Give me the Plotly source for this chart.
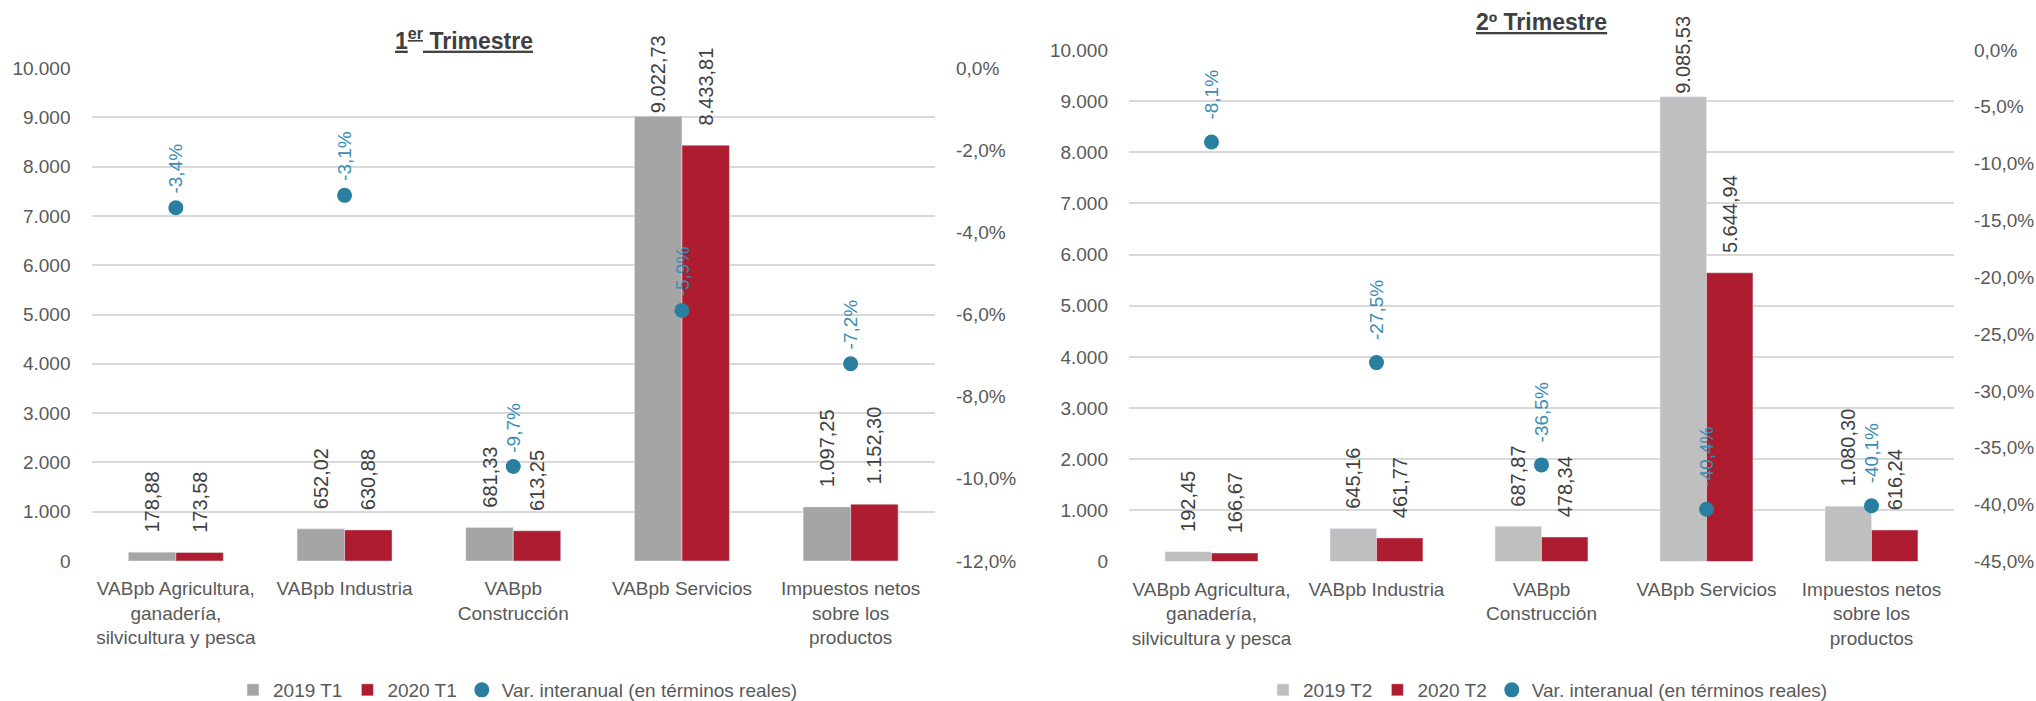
import plotly.graph_objects as go

categories = [
    "VABpb Agricultura,<br>ganadería,<br>silvicultura y pesca",
    "VABpb Industria",
    "VABpb<br>Construcción",
    "VABpb Servicios",
    "Impuestos netos<br>sobre los<br>productos",
]

t1_2019 = [178.88, 652.02, 681.33, 9022.73, 1097.25]
t1_2020 = [173.58, 630.88, 613.25, 8433.81, 1152.30]
t1_var = [-3.4, -3.1, -9.7, -5.9, -7.2]

t2_2019 = [192.45, 645.16, 687.87, 9085.53, 1080.30]
t2_2020 = [166.67, 461.77, 478.34, 5644.94, 616.24]
t2_var = [-8.1, -27.5, -36.5, -40.4, -40.1]

left_ticks = [0, 1000, 2000, 3000, 4000, 5000, 6000, 7000, 8000, 9000, 10000]
left_ticktext = ["0", "1.000", "2.000", "3.000", "4.000", "5.000", "6.000", "7.000", "8.000", "9.000", "10.000"]
t1_pct_ticks = [0, -2, -4, -6, -8, -10, -12]
t1_pct_text = ["0,0%", "-2,0%", "-4,0%", "-6,0%", "-8,0%", "-10,0%", "-12,0%"]
t2_pct_ticks = [0, -5, -10, -15, -20, -25, -30, -35, -40, -45]
t2_pct_text = ["0,0%", "-5,0%", "-10,0%", "-15,0%", "-20,0%", "-25,0%", "-30,0%", "-35,0%", "-40,0%", "-45,0%"]

FONT = "Liberation Sans, Arial, sans-serif"
GREY1 = "#A5A5A5"
GREY2 = "#BFBFBF"
RED = "#AD1C2F"
TEAL = "#2A7FA0"
TEAL_TXT = "#3A8DB3"
LABEL = "#404040"
TICK = "#595959"
GRID = "#D9D9D9"
AXIS_MAX = 10000


def fmt_num(v):
    s = f"{v:,.2f}"
    return s.replace(",", "X").replace(".", ",").replace("X", ".")


def fmt_pct(v):
    return f"{v:.1f}%".replace(".", ",")


PAD = "\u00a0\u00a0\u00a0"


def bar_label(v):
    # tall bars: label kept close to the bar so it stays inside the chart area
    return fmt_num(v) if v > 0.9 * AXIS_MAX else PAD + fmt_num(v)


fig = go.Figure()


def bar(xs, ys, name, color, xa, ya, lg):
    return go.Bar(x=xs, y=ys, name=name, marker_color=color,
                  text=[bar_label(v) for v in ys], textposition="outside",
                  textangle=-90, constraintext="none", cliponaxis=False,
                  textfont=dict(size=20, color=LABEL, family=FONT),
                  xaxis=xa, yaxis=ya, legend=lg)


fig.add_trace(bar(categories, t1_2019, "2019 T1", GREY1, "x", "y", "legend"))
fig.add_trace(bar(categories, t1_2020, "2020 T1", RED, "x", "y", "legend"))
fig.add_trace(go.Scatter(x=categories, y=t1_var, name="Var. interanual (en términos reales)",
                         mode="markers", marker=dict(color=TEAL, size=15),
                         xaxis="x", yaxis="y2", legend="legend", cliponaxis=False))

fig.add_trace(bar(categories, t2_2019, "2019 T2", GREY2, "x2", "y3", "legend2"))
fig.add_trace(bar(categories, t2_2020, "2020 T2", RED, "x2", "y3", "legend2"))
fig.add_trace(go.Scatter(x=categories, y=t2_var, name="Var. interanual (en términos reales)",
                         mode="markers", marker=dict(color=TEAL, size=15),
                         xaxis="x2", yaxis="y4", legend="legend2", cliponaxis=False))

annotations = []
for c, v in zip(categories, t1_var):
    annotations.append(dict(x=c, y=v, xref="x", yref="y2", text=fmt_pct(v), textangle=-90,
                            showarrow=False, yanchor="bottom", xanchor="center", yshift=12,
                            font=dict(size=19, color=TEAL_TXT, family=FONT)))
for c, v in zip(categories, t2_var):
    annotations.append(dict(x=c, y=v, xref="x2", yref="y4", text=fmt_pct(v), textangle=-90,
                            showarrow=False, yanchor="bottom", xanchor="center", yshift=20,
                            font=dict(size=19, color=TEAL_TXT, family=FONT)))

annotations.append(dict(x=464 / 2036, y=(701 - 39) / 701, xref="paper", yref="paper",
                        text="<b><u>1<sup>er</sup> Trimestre</u></b>", showarrow=False,
                        xanchor="center", yanchor="middle",
                        font=dict(size=23, color=LABEL, family=FONT)))
annotations.append(dict(x=1541 / 2036, y=(701 - 22) / 701, xref="paper", yref="paper",
                        text="<b><u>2º Trimestre</u></b>", showarrow=False,
                        xanchor="center", yanchor="middle",
                        font=dict(size=23, color=LABEL, family=FONT)))

xcommon = dict(showgrid=False, showline=False, ticks="", automargin=False,
               tickfont=dict(size=19, color=TICK, family=FONT),
               ticklabelstandoff=14, categoryorder="array", categoryarray=categories)
ycommon = dict(showgrid=True, gridcolor=GRID, gridwidth=2, zeroline=False, showline=False,
               ticks="", automargin=False, tickfont=dict(size=19, color=TICK, family=FONT))

left_dom = [91.5 / 2036, 935 / 2036]
right_dom = [1129 / 2036, 1954 / 2036]
left_ydom = [(701 - 561) / 701, (701 - 68) / 701]
right_ydom = [(701 - 561.5) / 701, (701 - 50) / 701]

fig.update_layout(
    width=2036, height=701,
    margin=dict(l=0, r=0, t=0, b=0, pad=0, autoexpand=False),
    paper_bgcolor="white", plot_bgcolor="white",
    font=dict(family=FONT, color=TICK),
    barmode="group", bargap=0.437, bargroupgap=0,
    xaxis=dict(domain=left_dom, anchor="y", **xcommon),
    yaxis=dict(domain=left_ydom, anchor="x", range=[0, AXIS_MAX], tickvals=left_ticks,
               ticktext=left_ticktext, ticklabelstandoff=20, **ycommon),
    yaxis2=dict(domain=left_ydom, anchor="x", overlaying="y", side="right", range=[-12, 0],
                tickvals=t1_pct_ticks, ticktext=t1_pct_text, ticklabelstandoff=20,
                **{**ycommon, "showgrid": False}),
    xaxis2=dict(domain=right_dom, anchor="y3", **xcommon),
    yaxis3=dict(domain=right_ydom, anchor="x2", range=[0, AXIS_MAX], tickvals=left_ticks,
                ticktext=left_ticktext, ticklabelstandoff=20, **ycommon),
    yaxis4=dict(domain=right_ydom, anchor="x2", overlaying="y3", side="right", range=[-45, 0],
                tickvals=t2_pct_ticks, ticktext=t2_pct_text, ticklabelstandoff=19,
                **{**ycommon, "showgrid": False}),
    legend=dict(orientation="h", x=518 / 2036, y=11 / 701, xanchor="center", yanchor="middle",
                font=dict(size=19, color=TICK, family=FONT), itemwidth=30, bgcolor="rgba(0,0,0,0)"),
    legend2=dict(orientation="h", x=1548 / 2036, y=11 / 701, xanchor="center", yanchor="middle",
                 font=dict(size=19, color=TICK, family=FONT), itemwidth=30, bgcolor="rgba(0,0,0,0)"),
    annotations=annotations,
    showlegend=True,
)

fig.write_html(
    "out.html",
    config={"displayModeBar": False},
    post_script="document.body.style.margin='0';document.body.style.overflow='hidden';",
)
